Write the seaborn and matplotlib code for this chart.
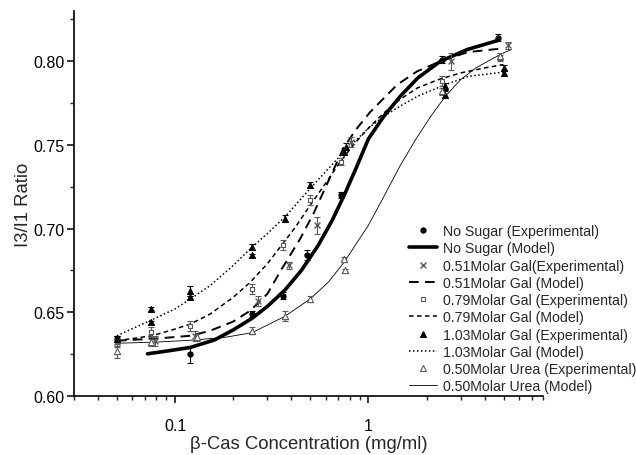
import matplotlib
matplotlib.use("Agg")
import matplotlib.pyplot as plt
import seaborn as sns
import pandas as pd
from matplotlib.lines import Line2D
from matplotlib.ticker import LogLocator, FixedLocator, FixedFormatter, NullFormatter, MultipleLocator

sns.set_style("ticks")
plt.rcParams['font.family'] = ['Liberation Sans', 'DejaVu Sans']

# ---------------- Experimental data ----------------
ns_x = [0.05, 0.12, 0.25, 0.36, 0.48, 0.72, 2.4, 4.7]
ns_y = [0.634, 0.625, 0.649, 0.660, 0.684, 0.720, 0.801, 0.814]
ns_e = [0.002, 0.005, 0.002, 0.002, 0.003, 0.002, 0.002, 0.002]

g51_x = [0.05, 0.079, 0.127, 0.27, 0.39, 0.54, 0.81, 2.66, 5.25]
g51_y = [0.632, 0.633, 0.636, 0.6565, 0.678, 0.702, 0.752, 0.800, 0.8095]
g51_e = [0.003, 0.003, 0.003, 0.003, 0.002, 0.005, 0.003, 0.005, 0.002]

g79_x = [0.05, 0.075, 0.12, 0.25, 0.36, 0.5, 0.72, 2.4, 4.8]
g79_y = [0.633, 0.638, 0.642, 0.664, 0.690, 0.717, 0.740, 0.788, 0.802]
g79_e = [0.003, 0.003, 0.003, 0.003, 0.003, 0.003, 0.002, 0.003, 0.002]

g103_x = [0.05, 0.075, 0.075, 0.12, 0.12, 0.25, 0.25, 0.37, 0.5, 0.75, 0.77, 2.5, 2.5, 5.0, 5.0]
g103_y = [0.634, 0.652, 0.644, 0.663, 0.659, 0.689, 0.684, 0.706, 0.726, 0.746, 0.749, 0.785, 0.780, 0.796, 0.793]
g103_e = [0.002, 0.001, 0.001, 0.003, 0.001, 0.002, 0.001, 0.002, 0.002, 0.002, 0.002, 0.002, 0.002, 0.002, 0.002]

ur_x = [0.05, 0.075, 0.13, 0.25, 0.37, 0.5, 0.75, 0.76, 2.4, 4.8]
ur_y = [0.627, 0.632, 0.635, 0.639, 0.648, 0.658, 0.682, 0.675, 0.782, 0.803]
ur_e = [0.004, 0.002, 0.002, 0.002, 0.003, 0.002, 0.001, 0.001, 0.002, 0.002]

# ---------------- Model curves ----------------
m_ns_x = [0.072, 0.09, 0.12, 0.16, 0.2, 0.25, 0.3, 0.37, 0.45, 0.55, 0.65, 0.75, 0.87, 1.0,
          1.2, 1.46, 1.8, 2.36, 3.25, 4.7]
m_ns_y = [0.6252, 0.6268, 0.629, 0.6335, 0.6395, 0.6464, 0.6535, 0.6633, 0.675, 0.690, 0.705,
          0.720, 0.737, 0.7536, 0.767, 0.779, 0.790, 0.800, 0.807, 0.8125]

m_g51_x = [0.05, 0.084, 0.12, 0.152, 0.2, 0.245, 0.3, 0.35, 0.444, 0.52, 0.613, 0.742, 0.86,
           1.02, 1.41, 1.79, 2.36, 3.26, 4.8]
m_g51_y = [0.633, 0.6345, 0.636, 0.639, 0.6445, 0.651, 0.661, 0.6744, 0.694, 0.709, 0.727,
           0.748, 0.759, 0.7696, 0.786, 0.794, 0.800, 0.8054, 0.8075]

m_g79_x = [0.05, 0.076, 0.1, 0.12, 0.152, 0.2, 0.245, 0.3, 0.35, 0.42, 0.5, 0.6, 0.716, 0.85,
           1.0, 1.2, 1.45, 1.79, 2.3, 3.0, 4.0, 5.0]
m_g79_y = [0.633, 0.636, 0.640, 0.643, 0.649, 0.659, 0.668, 0.679, 0.689, 0.701, 0.714, 0.727,
           0.740, 0.751, 0.760, 0.769, 0.777, 0.784, 0.789, 0.793, 0.796, 0.798]

m_g103_x = [0.05, 0.074, 0.1, 0.12, 0.152, 0.2, 0.245, 0.3, 0.37, 0.5, 0.6, 0.716, 0.85, 1.0,
            1.2, 1.45, 1.79, 2.5, 3.3, 5.0]
m_g103_y = [0.636, 0.645, 0.652, 0.658, 0.666, 0.678, 0.688, 0.697, 0.707, 0.724, 0.734,
            0.7435, 0.752, 0.760, 0.767, 0.773, 0.779, 0.786, 0.791, 0.7935]

m_ur_x = [0.05, 0.08, 0.12, 0.18, 0.25, 0.37, 0.5, 0.62, 0.75, 0.9, 1.0, 1.2, 1.45, 1.75,
          2.1, 2.5, 3.0, 3.6, 4.3, 5.0, 5.5]
m_ur_y = [0.6315, 0.6322, 0.6333, 0.635, 0.6378, 0.6476, 0.658, 0.668, 0.680, 0.694, 0.702,
          0.719, 0.737, 0.753, 0.767, 0.779, 0.789, 0.796, 0.801, 0.805, 0.807]

labels = ["No Sugar (Experimental)", "No Sugar (Model)",
          "0.51Molar Gal(Experimental)", "0.51Molar Gal (Model)",
          "0.79Molar Gal (Experimental)", "0.79Molar Gal (Model)",
          "1.03Molar Gal (Experimental)", "1.03Molar Gal (Model)",
          "0.50Molar Urea (Experimental)", "0.50Molar Urea (Model)"]

fig = plt.figure(figsize=(6.36, 4.56), dpi=100)
ax = fig.add_axes([74/636, 1-397/456, (543-74)/636, (397-12)/456])

GRAY = "#5a5a5a"
exp_series = [
    (ns_x, ns_y, ns_e, "o", "black", "black", 14),
    (g51_x, g51_y, g51_e, "x", GRAY, GRAY, 18),
    (g79_x, g79_y, g79_e, "s", "white", GRAY, 12),
    (g103_x, g103_y, g103_e, "^", "black", "black", 18),
    (ur_x, ur_y, ur_e, "^", "white", GRAY, 20),
]
model_series = [
    (m_ns_x, m_ns_y, 2.6, None),
    (m_g51_x, m_g51_y, 1.4, (5, 3.2)),
    (m_g79_x, m_g79_y, 1.1, (3, 2.2)),
    (m_g103_x, m_g103_y, 1.1, (1, 1.6)),
    (m_ur_x, m_ur_y, 0.6, None),
]

# models
for (mx, my, lw, dash) in model_series:
    df = pd.DataFrame({"x": mx, "y": my})
    kw = dict(color="black", lw=lw, sort=False, estimator=None, ax=ax)
    if dash is not None:
        kw["dashes"] = dash
    sns.lineplot(data=df, x="x", y="y", **kw)

# experimental points
for (ex, ey, ee, mk, fc, ec, s) in exp_series:
    ax.errorbar(ex, ey, yerr=ee, fmt="none", ecolor=ec, elinewidth=0.8,
                capsize=2.5, capthick=0.8, zorder=3)
    df = pd.DataFrame({"x": ex, "y": ey})
    if mk == "x":
        sns.scatterplot(data=df, x="x", y="y", marker="x", color=ec, s=s,
                        linewidth=1.0, ax=ax, zorder=4)
    else:
        sns.scatterplot(data=df, x="x", y="y", marker=mk, facecolor=fc,
                        edgecolor=ec, s=s, linewidth=0.8, ax=ax, zorder=4)

ax.set_xscale("log")
ax.set_xlim(0.03, 8)
ax.set_ylim(0.60, 0.83)

ax.xaxis.set_major_locator(FixedLocator([0.1, 1]))
ax.xaxis.set_major_formatter(FixedFormatter(["0.1", "1"]))
ax.xaxis.set_minor_locator(LogLocator(base=10, subs=range(2, 10), numticks=20))
ax.xaxis.set_minor_formatter(NullFormatter())
ax.yaxis.set_major_locator(FixedLocator([0.60, 0.65, 0.70, 0.75, 0.80]))
ax.yaxis.set_major_formatter(FixedFormatter(["0.60", "0.65", "0.70", "0.75", "0.80"]))
ax.yaxis.set_minor_locator(MultipleLocator(0.025))

ax.tick_params(axis="both", which="major", direction="out", length=5, width=1.1,
               labelsize=11.5, colors="black")
ax.tick_params(axis="y", which="major", pad=2)
ax.tick_params(axis="x", which="major", pad=11)
ax.tick_params(axis="both", which="minor", direction="out", length=3, width=1.0)
for side in ["left", "bottom"]:
    ax.spines[side].set_linewidth(1.2)
    ax.spines[side].set_color("black")
sns.despine(ax=ax)

ax.set_xlabel("β-Cas Concentration (mg/ml)", fontsize=13.3, labelpad=1)
ax.set_ylabel("I3/I1 Ratio", fontsize=13.3, labelpad=1)

handles = []
for (ex, ey, ee, mk, fc, ec, s), (mx, my, lw, dash) in zip(exp_series, model_series):
    handles.append(Line2D([], [], linestyle="none", marker=mk, markerfacecolor=fc,
                          markeredgecolor=ec, color=ec, markersize=(s ** 0.5),
                          markeredgewidth=0.8 if mk != "x" else 1.0))
    h = Line2D([], [], color="black", lw=lw)
    if dash is not None:
        h.set_dashes(dash)
    handles.append(h)

leg = fig.legend(handles, labels, loc="upper left",
                 bbox_to_anchor=(409/636, 1-225/456), bbox_transform=fig.transFigure,
                 frameon=False, fontsize=10.2, borderpad=0, borderaxespad=0,
                 labelspacing=0.23, handlelength=1.95, handletextpad=0.43)

fig.savefig("out.png", dpi=100)
